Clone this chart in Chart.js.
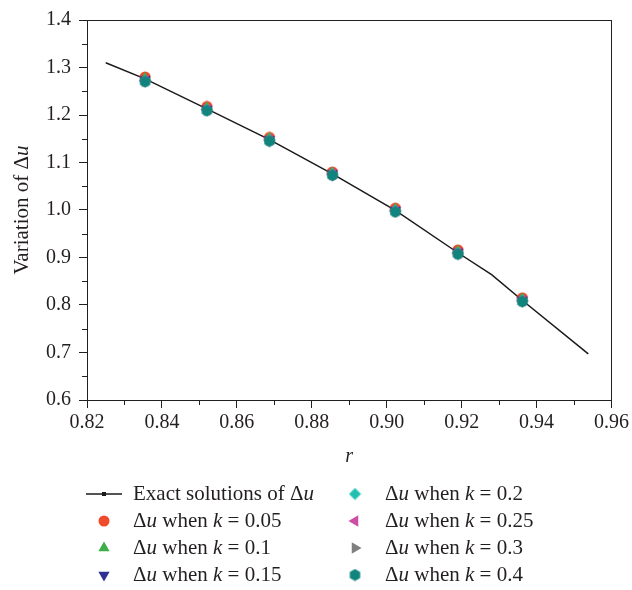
<!DOCTYPE html>
<html>
<head>
<meta charset="utf-8">
<script src="https://cdn.jsdelivr.net/npm/chart.js@4.4.0/dist/chart.umd.min.js"></script>
<style>
  html, body { margin: 0; padding: 0; background: #fff; }
  canvas { display: block; }
</style>
</head>
<body>
<canvas id="deltaChart" width="632" height="590"></canvas>
<script>
const FONT = '"Liberation Serif", "DejaVu Serif", serif';
const INK = '#231f20';

// r positions of the computed points
const rPoints = [0.8355, 0.852, 0.8687, 0.8855, 0.9023, 0.919, 0.9362];

// exact solution curve
const exactR  = [0.825, 0.8355, 0.852, 0.8687, 0.8855, 0.9023, 0.919, 0.928, 0.936, 0.9538];
const exactDu = [1.310, 1.276, 1.213, 1.148, 1.076, 0.999, 0.910, 0.864, 0.811, 0.697];

// delta u for each k
const duK005 = [1.280, 1.218, 1.153, 1.080, 1.004, 0.916, 0.815];
const duK010 = [1.277, 1.215, 1.151, 1.078, 1.002, 0.913, 0.813];
const duK015 = [1.275, 1.213, 1.149, 1.077, 1.000, 0.912, 0.811];
const duK020 = [1.273, 1.212, 1.148, 1.076, 0.999, 0.910, 0.810];
const duK025 = [1.272, 1.211, 1.147, 1.075, 0.998, 0.909, 0.809];
const duK030 = [1.271, 1.210, 1.146, 1.074, 0.997, 0.908, 0.808];
const duK040 = [1.270, 1.209, 1.145, 1.073, 0.996, 0.907, 0.807];

const kLabels = ['0.05', '0.1', '0.15', '0.2', '0.25', '0.3', '0.4'];

// tick labels
const xTickValues = [0.82, 0.84, 0.86, 0.88, 0.90, 0.92, 0.94, 0.96];
const yTickValues = [0.6, 0.7, 0.8, 0.9, 1.0, 1.1, 1.2, 1.3, 1.4];

function makeMarker(shape, color, size) {
    const c = document.createElement('canvas');
    c.width = size;
    c.height = size;
    const g = c.getContext('2d');
    const m = size / 2, r = size / 2 - 0.5;
    g.fillStyle = color;
    g.beginPath();
    if (shape === 'circle') {
        g.arc(m, m, r, 0, Math.PI * 2);
    } else {
        const n = { up: 3, down: 3, left: 3, right: 3, diamond: 4, hexagon: 6 }[shape];
        const start = { up: -90, down: 90, left: 180, right: 0, diamond: -90, hexagon: -90 }[shape];
        for (let i = 0; i < n; i++) {
            const a = (start + i * 360 / n) * Math.PI / 180;
            g.lineTo(m + r * Math.cos(a), m + r * Math.sin(a));
        }
    }
    g.closePath();
    g.fill();
    return c;
}

const toPoints = (xs, ys) => xs.map((x, i) => ({ x: x, y: ys[i] }));

const seriesStyles = [
    { values: duK005, shape: 'circle',  color: '#ef4a2a', size: 12 },
    { values: duK010, shape: 'up',      color: '#3daf4a', size: 14 },
    { values: duK015, shape: 'down',    color: '#2e3192', size: 14 },
    { values: duK020, shape: 'diamond', color: '#21c0b0', size: 13 },
    { values: duK025, shape: 'left',    color: '#cc4ea5', size: 14 },
    { values: duK030, shape: 'right',   color: '#808080', size: 14 },
    { values: duK040, shape: 'hexagon', color: '#11847e', size: 13 }
];

const datasets = [{
    label: 'Exact solutions of Δu',
    data: toPoints(exactR, exactDu),
    showLine: true,
    borderColor: '#1a1a1a',
    borderWidth: 1.5,
    pointRadius: 0,
    order: 20
}];
seriesStyles.forEach((s, i) => {
    datasets.push({
        label: 'Δu when k = ' + kLabels[i],
        data: toPoints(rPoints, s.values),
        pointStyle: makeMarker(s.shape, s.color, s.size),
        backgroundColor: s.color,
        order: seriesStyles.length - i
    });
});

// split a label into plain / italic pieces (u after Δ, k before =)
function richParts(text) {
    return text.split(/(?<=Δ)(u)|(k)(?= =)/)
        .filter(p => p)
        .map(p => ({ text: p, italic: p === 'u' || p === 'k' }));
}

function drawRich(ctx, parts, x, y, align, size) {
    let total = 0;
    parts.forEach(p => {
        ctx.font = (p.italic ? 'italic ' : '') + size + 'px ' + FONT;
        p.w = ctx.measureText(p.text).width;
        total += p.w;
    });
    let cx = align === 'center' ? x - total / 2 : x;
    ctx.textAlign = 'left';
    ctx.textBaseline = 'middle';
    parts.forEach(p => {
        ctx.font = (p.italic ? 'italic ' : '') + size + 'px ' + FONT;
        ctx.fillText(p.text, cx, y);
        cx += p.w;
    });
}

const decorPlugin = {
    id: 'decor',
    afterDraw(chart) {
        const { ctx, chartArea: a, scales: { x, y } } = chart;
        ctx.save();
        ctx.strokeStyle = INK;
        ctx.fillStyle = INK;
        ctx.lineWidth = 1;

        // frame
        ctx.strokeRect(Math.round(a.left) + 0.5, Math.round(a.top) + 0.5,
            Math.round(a.width) - 1, Math.round(a.height));

        // minor ticks
        ctx.beginPath();
        for (let i = 0; i < xTickValues.length - 1; i++) {
            const px = Math.round(x.getPixelForValue((xTickValues[i] + xTickValues[i + 1]) / 2)) + 0.5;
            ctx.moveTo(px, a.bottom);
            ctx.lineTo(px, a.bottom + 5);
        }
        for (let i = 0; i < yTickValues.length - 1; i++) {
            const py = Math.round(y.getPixelForValue((yTickValues[i] + yTickValues[i + 1]) / 2)) + 0.5;
            ctx.moveTo(a.left, py);
            ctx.lineTo(a.left - 5, py);
        }
        ctx.stroke();

        // axis titles
        drawRich(ctx, [{ text: 'r', italic: true }], (a.left + a.right) / 2, 457, 'center', 20);
        ctx.save();
        ctx.translate(22, (a.top + a.bottom) / 2);
        ctx.rotate(-Math.PI / 2);
        drawRich(ctx, richParts('Variation of Δu'), 0, 0, 'center', 21);
        ctx.restore();

        // legend, two columns of four
        const rowsY = [494, 521, 548, 575];
        const markX = [104, 355];
        const textX = [133, 385];
        chart.data.datasets.forEach((ds, i) => {
            const col = Math.floor(i / 4), row = i % 4;
            const yy = rowsY[row];
            if (ds.showLine) {
                ctx.beginPath();
                ctx.lineWidth = 1.5;
                ctx.strokeStyle = '#1a1a1a';
                ctx.moveTo(markX[col] - 18, yy);
                ctx.lineTo(markX[col] + 18, yy);
                ctx.stroke();
                ctx.fillStyle = '#1a1a1a';
                ctx.fillRect(markX[col] - 2, yy - 2, 4, 4);
            } else {
                const img = ds.pointStyle;
                ctx.drawImage(img, markX[col] - img.width / 2, yy - img.height / 2);
            }
            ctx.fillStyle = INK;
            drawRich(ctx, richParts(ds.label), textX[col], yy, 'left', 21);
        });
        ctx.restore();
    }
};

new Chart(document.getElementById('deltaChart'), {
    type: 'scatter',
    data: { datasets: datasets },
    options: {
        responsive: false,
        animation: false,
        layout: { padding: { left: 0, top: 16, right: 18, bottom: 0 } },
        plugins: {
            legend: { display: false },
            tooltip: { enabled: false }
        },
        scales: {
            x: {
                type: 'linear',
                min: 0.82,
                max: 0.96,
                afterFit: s => { s.height = 190; },
                afterBuildTicks: s => { s.ticks = xTickValues.map(v => ({ value: v })); },
                border: { color: INK, width: 1 },
                grid: { drawOnChartArea: false, drawTicks: true, tickLength: 8, color: INK },
                ticks: {
                    color: INK,
                    padding: 3,
                    maxRotation: 0,
                    font: { family: FONT, size: 20 },
                    callback: v => v.toFixed(2)
                }
            },
            y: {
                type: 'linear',
                min: 0.6,
                max: 1.4,
                afterFit: s => { s.width = 87; },
                afterBuildTicks: s => { s.ticks = yTickValues.map(v => ({ value: v })); },
                border: { color: INK, width: 1 },
                grid: { drawOnChartArea: false, drawTicks: true, tickLength: 8, color: INK },
                ticks: {
                    color: INK,
                    padding: 8,
                    font: { family: FONT, size: 20 },
                    callback: v => v.toFixed(1)
                }
            }
        }
    },
    plugins: [decorPlugin]
});
</script>
</body>
</html>
